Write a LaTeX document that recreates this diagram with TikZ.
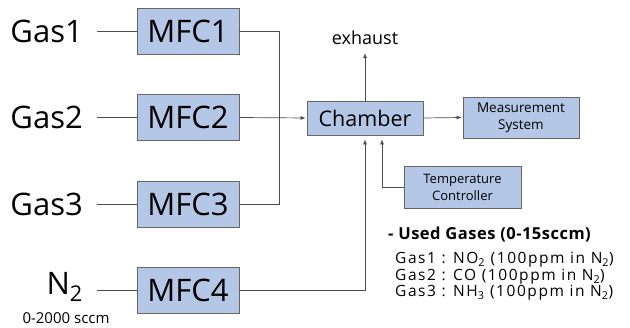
\documentclass[tikz,border=0pt]{standalone}
\usepackage{fontspec}
\setmainfont{Open Sans}
\usetikzlibrary{arrows.meta}
\begin{document}
\begin{tikzpicture}[x=1pt,y=-1pt,
  box/.style={draw=black!60,line width=0.8pt,fill={rgb,255:red,180;green,199;blue,231},inner sep=0pt,anchor=center},
  big/.style={font=\fontsize{31}{33}\selectfont},
  legline/.style={anchor=west,inner sep=0pt,font=\fontsize{15.5}{17}\selectfont\addfontfeature{LetterSpace=10}},
  ln/.style={draw=black!70,line width=0.7pt},
  arr/.style={ln,-{Latex[length=5pt,width=4pt]}}]
\useasboundingbox (0,0) rectangle (630,328);
% MFC boxes
\node[box,big,minimum width=102pt,minimum height=46pt] (m1) at (188,31) {MFC1};
\node[box,big,minimum width=102pt,minimum height=46pt] (m2) at (188,117.5) {MFC2};
\node[box,big,minimum width=102pt,minimum height=46pt] (m3) at (188,204) {MFC3};
\node[box,big,minimum width=102pt,minimum height=46pt] (m4) at (188,290) {MFC4};
% gas labels
\node[anchor=east,inner sep=0pt,big] (g1) at (83,31) {Gas1};
\node[anchor=east,inner sep=0pt,big] (g2) at (83,117.5) {Gas2};
\node[anchor=east,inner sep=0pt,big] (g3) at (83,204) {Gas3};
\node[anchor=east,inner sep=0pt,big] (n2) at (83,287) {N\textsubscript{2}};
\node[inner sep=0pt,font=\fontsize{15}{16}\selectfont] (sc) at (66,318.5) {0-2000 sccm};
\coordinate (s1) at (97,31);
\coordinate (s2) at (97,117.5);
\coordinate (s3) at (97,204);
\coordinate (s4) at (97,290);
\draw[ln] (s1) -- (m1.west);
\draw[ln] (s2) -- (m2.west);
\draw[ln] (s3) -- (m3.west);
\draw[ln] (s4) -- (m4.west);
% chamber etc
\node[box,minimum width=116pt,minimum height=34pt,font=\fontsize{21.5}{24}\selectfont] (ch) at (365,118) {Chamber};
\node[box,minimum width=116pt,minimum height=41pt,align=center,font=\fontsize{13.5}{17}\selectfont] (ms) at (521,117.5) {Measurement\\System};
\node[box,minimum width=117pt,minimum height=42pt,align=center,font=\fontsize{13}{17}\selectfont] (tc) at (462.5,187) {Temperature\\Controller};
\node[inner sep=0pt,font=\fontsize{18}{20}\selectfont] (ex) at (365,38) {exhaust};
\coordinate (bus) at (279,117.5);
\draw[ln] (m1.east) -| (bus);
\draw[ln] (m3.east) -| (bus);
\draw[arr] (m2.east) -- ([xshift=-1pt]ch.west);
\draw[arr] (ch.north) -- ([yshift=-8pt]ex.south);
\draw[arr] (ch.east) -- ([xshift=-1pt]ms.west);
\draw[arr] (tc.west) -| ([xshift=17pt,yshift=-4pt]ch.south);
\draw[arr] (m4.east) -| ([yshift=-4pt]ch.south);
% legend
\node[anchor=west,inner sep=0pt,font=\bfseries\fontsize{16.5}{18}\selectfont\addfontfeature{LetterSpace=3}] (lg) at (388,235) {- Used Gases (0-15sccm)};
\node[legline] (l1) at (395,259.5) {Gas1 : NO\textsubscript{2} (100ppm in N\textsubscript{2})};
\node[legline] (l2) at (395,276.5) {Gas2 : CO (100ppm in N\textsubscript{2})};
\node[legline] (l3) at (395,293) {Gas3 : NH\textsubscript{3} (100ppm in N\textsubscript{2})};
\end{tikzpicture}
\end{document}
